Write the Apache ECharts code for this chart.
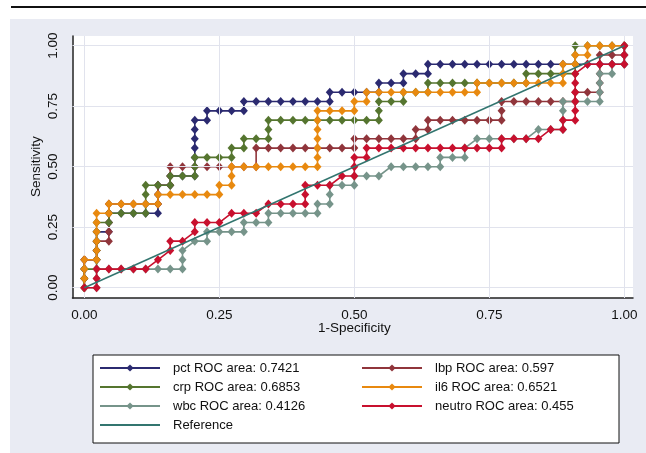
<!DOCTYPE html>
<html>
<head>
<meta charset="utf-8">
<script src="https://cdn.jsdelivr.net/npm/echarts@6/dist/echarts.min.js"></script>
<style>
  html, body { margin: 0; padding: 0; background: #fff; }
  #chart { width: 646px; height: 453px; }
</style>
</head>
<body>
<div id="chart"></div>
<script>
// Step counts: 44 controls (x steps), 26 cases (y steps)
var NEG = 44, POS = 26;

var tickValues = [0, 0.25, 0.5, 0.75, 1];

var seriesNames = [
    "pct ROC area: 0.7421",
    "lbp ROC area: 0.597",
    "crp ROC area: 0.6853",
    "il6 ROC area: 0.6521",
    "wbc ROC area: 0.4126",
    "neutro ROC area: 0.455"
];

// [false positives, true positives] at each cut point
var pctPts = [[0,0],[0,1],[0,2],[0,3],[1,3],[1,4],[1,5],[1,6],[2,6],[2,7],[2,8],[3,8],[4,8],[5,8],[6,8],[6,9],[6,10],[6,11],[7,11],[7,12],[8,12],[9,12],[9,13],[9,14],[9,15],[9,16],[9,17],[9,18],[10,18],[10,19],[11,19],[12,19],[13,19],[13,20],[14,20],[15,20],[16,20],[17,20],[18,20],[19,20],[20,20],[20,21],[21,21],[22,21],[23,21],[24,21],[24,22],[25,22],[26,22],[26,23],[27,23],[28,23],[28,24],[29,24],[30,24],[31,24],[32,24],[33,24],[34,24],[35,24],[36,24],[37,24],[38,24],[39,24],[40,24],[41,24],[42,24],[43,24],[44,24],[44,25],[44,26]];

var lbpPts = [[0,0],[0,1],[0,2],[0,3],[1,3],[1,4],[1,5],[2,5],[2,6],[2,7],[2,8],[2,9],[3,9],[4,9],[5,9],[6,9],[6,10],[6,11],[7,11],[7,12],[7,13],[8,13],[9,13],[10,13],[11,13],[12,13],[13,13],[14,13],[14,15],[15,15],[16,15],[17,15],[18,15],[19,15],[20,15],[21,15],[22,15],[22,16],[23,16],[24,16],[25,16],[26,16],[27,16],[27,17],[28,17],[28,18],[29,18],[30,18],[31,18],[32,18],[33,18],[34,18],[34,19],[34,20],[35,20],[36,20],[37,20],[38,20],[39,20],[40,20],[40,21],[41,21],[42,21],[42,22],[42,23],[42,24],[42,25],[43,25],[44,25],[44,26]];

var crpPts = [[0,0],[0,1],[0,2],[1,2],[1,3],[1,4],[1,5],[1,6],[1,7],[2,7],[2,8],[3,8],[4,8],[5,8],[5,9],[5,10],[5,11],[6,11],[7,11],[7,12],[8,12],[9,12],[9,13],[9,14],[10,14],[11,14],[12,14],[12,15],[13,15],[13,16],[14,16],[15,16],[15,17],[15,18],[16,18],[17,18],[18,18],[19,18],[20,18],[21,18],[22,18],[23,18],[24,18],[24,19],[24,20],[25,20],[26,20],[26,21],[27,21],[28,21],[28,22],[29,22],[30,22],[31,22],[32,22],[33,22],[34,22],[35,22],[36,22],[36,23],[37,23],[38,23],[39,23],[40,23],[40,24],[40,25],[40,26],[41,26],[42,26],[43,26],[44,26]];

var il6Pts = [[0,0],[0,1],[0,2],[0,3],[1,3],[1,4],[1,5],[1,6],[1,7],[1,8],[2,8],[2,9],[3,9],[4,9],[5,9],[6,9],[6,10],[7,10],[8,10],[9,10],[10,10],[11,10],[11,11],[12,11],[12,12],[12,13],[13,13],[14,13],[15,13],[16,13],[17,13],[18,13],[19,13],[19,14],[19,15],[19,16],[19,17],[19,18],[19,19],[20,19],[21,19],[22,19],[22,20],[23,20],[23,21],[24,21],[25,21],[26,21],[27,21],[28,21],[29,21],[30,21],[31,21],[32,21],[32,22],[33,22],[34,22],[35,22],[36,22],[37,22],[38,22],[39,22],[39,23],[39,24],[40,24],[40,25],[41,25],[41,26],[42,26],[43,26],[44,26]];

var wbcPts = [[0,0],[1,0],[1,1],[1,2],[2,2],[3,2],[4,2],[5,2],[6,2],[7,2],[8,2],[8,3],[8,4],[9,5],[10,5],[10,6],[11,6],[12,6],[13,6],[13,7],[14,7],[15,7],[15,8],[16,8],[17,8],[18,8],[19,8],[19,9],[20,9],[20,10],[20,11],[21,11],[22,11],[22,12],[23,12],[24,12],[25,13],[26,13],[27,13],[28,13],[29,13],[29,14],[30,14],[31,14],[31,15],[32,16],[33,16],[34,16],[35,16],[36,16],[37,17],[38,17],[39,17],[39,18],[39,19],[39,20],[40,20],[41,20],[42,20],[42,21],[42,22],[42,23],[43,23],[43,24],[44,24],[44,25],[44,26]];

var neutroPts = [[0,0],[1,0],[1,1],[1,2],[2,2],[3,2],[4,2],[5,2],[6,3],[7,4],[7,5],[8,5],[9,6],[9,7],[10,7],[11,7],[12,8],[13,8],[14,8],[15,9],[16,9],[17,9],[18,9],[18,10],[18,11],[19,11],[20,11],[21,12],[22,12],[22,13],[22,14],[23,14],[23,15],[24,15],[25,15],[26,15],[27,15],[28,15],[29,15],[30,15],[31,15],[32,15],[33,15],[34,15],[34,16],[35,16],[36,16],[37,16],[38,17],[39,17],[39,18],[40,18],[40,19],[40,20],[40,21],[40,22],[40,23],[41,24],[42,24],[43,24],[44,24],[44,25],[44,26]];

var refPts = [[0,0],[1,1]];

var colors = ["#2b2a70", "#90353b", "#55752f", "#e8890f", "#76948a", "#c8102e"];
var refColor = "#32756f";

// convertir les comptes en taux (1-spécificité, sensibilité)
function toRates(pts) {
    return pts.map(function(p) { return [p[0] / NEG, p[1] / POS]; });
}

var chart = echarts.init(document.getElementById('chart'));

var allPts = [pctPts, lbpPts, crpPts, il6Pts, wbcPts, neutroPts];
var series = [];

// grid lines across the whole plot region
series.push({
    type: 'line',
    xAxisIndex: 0, yAxisIndex: 0,
    data: [],
    z: 1,
    silent: true,
    markLine: {
        silent: true,
        symbol: ['none', 'none'],
        label: { show: false },
        lineStyle: { color: '#e1e3ed', width: 1, type: 'solid' },
        data: tickValues.map(function(v) { return { xAxis: v }; })
            .concat(tickValues.map(function(v) { return { yAxis: v }; }))
    }
});

allPts.forEach(function(pts, k) {
    series.push({
        name: seriesNames[k],
        type: 'line',
        xAxisIndex: 0, yAxisIndex: 0,
        data: toRates(pts),
        symbol: 'diamond',
        symbolSize: [8, 9],
        showAllSymbol: true,
        color: colors[k],
        lineStyle: { width: 1.6, color: colors[k] },
        itemStyle: { color: colors[k] },
        z: 2 + k
    });
});

series.push({
    name: 'Reference',
    type: 'line',
    xAxisIndex: 0, yAxisIndex: 0,
    data: refPts,
    symbol: 'none',
    color: refColor,
    lineStyle: { width: 1.5, color: refColor },
    z: 10
});

var font = 'Liberation Sans, Arial, sans-serif';

var option = {
    animation: false,
    graphic: [
        { type: 'rect', z: -10, shape: { x: 10, y: 19, width: 636, height: 434 }, style: { fill: '#e9ebf3' } },
        { type: 'line', z: -10, shape: { x1: 11, y1: 7, x2: 646, y2: 7 }, style: { stroke: '#111', lineWidth: 2 } }
    ],
    grid: [
        { left: 72.5, right: 13, top: 36, bottom: 155, show: true, backgroundColor: '#fff', borderWidth: 0 },
        { left: 84.3, right: 21.7, top: 45.7, bottom: 165.3 }
    ],
    xAxis: [
        {
            type: 'value', gridIndex: 0, min: -0.0219, max: 1.0161,
            axisLine: { show: true, onZero: false, lineStyle: { color: '#222', width: 1.5 } },
            axisTick: { show: false }, axisLabel: { show: false }, splitLine: { show: false }
        },
        {
            type: 'value', gridIndex: 1, min: 0, max: 1, interval: 0.25, offset: 10.3,
            axisLine: { show: false },
            axisTick: { show: true, length: 5, lineStyle: { color: '#222', width: 1 } },
            axisLabel: { show: true, margin: 10, color: '#111', fontSize: 13.5, fontFamily: font,
                formatter: function(v) { return v.toFixed(2); } },
            splitLine: { show: false },
            name: '1-Specificity', nameLocation: 'middle', nameGap: 23, nameMoveOverlap: false,
            nameTextStyle: { color: '#111', fontSize: 13.5, fontFamily: font }
        }
    ],
    yAxis: [
        {
            type: 'value', gridIndex: 0, min: -0.0426, max: 1.0401,
            axisLine: { show: true, onZero: false, lineStyle: { color: '#222', width: 1.5 } },
            axisTick: { show: false }, axisLabel: { show: false }, splitLine: { show: false }
        },
        {
            type: 'value', gridIndex: 1, min: 0, max: 1, interval: 0.25, offset: 11.8,
            axisLine: { show: false },
            axisTick: { show: true, length: 5, lineStyle: { color: '#222', width: 1 } },
            axisLabel: { show: true, margin: 12, rotate: 90, color: '#111', fontSize: 13.5, fontFamily: font,
                formatter: function(v) { return v.toFixed(2); } },
            splitLine: { show: false },
            name: 'Sensitivity', nameLocation: 'middle', nameGap: 29, nameMoveOverlap: false,
            nameTextStyle: { color: '#111', fontSize: 13.5, fontFamily: font }
        }
    ],
    legend: {
        left: 93, top: 355, width: 520,
        orient: 'horizontal',
        padding: [6, 1, 11, 6],
        itemGap: 5,
        itemWidth: 60, itemHeight: 9,
        backgroundColor: '#fff', borderColor: '#111', borderWidth: 1,
        selectedMode: false,
        textStyle: { fontSize: 13, fontFamily: font, color: '#111', width: 183, lineHeight: 14, padding: [0, 0, 0, 8] },
        data: seriesNames.concat([{ name: 'Reference', itemStyle: { opacity: 0 } }])
    },
    series: series
};

chart.setOption(option);
</script>
</body>
</html>
